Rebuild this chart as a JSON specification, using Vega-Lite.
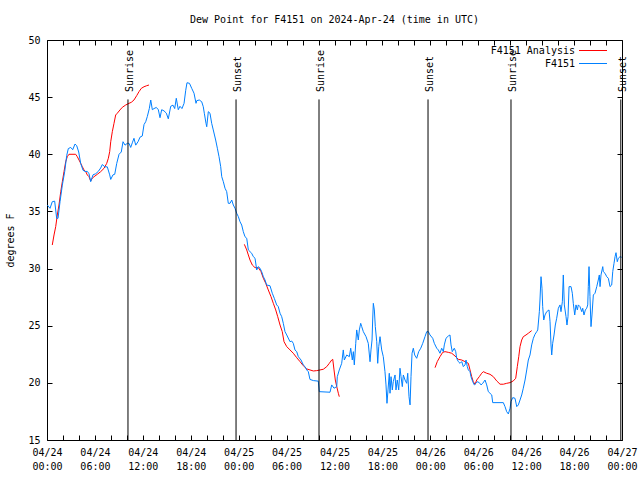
{
  "$schema": "https://vega.github.io/schema/vega-lite/v6.json",
  "width": 575,
  "height": 400,
  "autosize": {"type": "none"},
  "padding": {"left": 47, "top": 40, "right": 18, "bottom": 40},
  "background": "white",
  "title": {"text": "Dew Point for F4151 on 2024-Apr-24 (time in UTC)", "font": "DejaVu Sans Mono", "fontSize": 10, "fontWeight": "normal", "color": "#000", "anchor": "middle", "offset": 10},
  "config": {
    "view": {"stroke": "#000", "strokeWidth": 1},
    "axis": {"grid": false, "domain": false, "tickColor": "#000", "tickWidth": 1, "tickSize": -5, "labelColor": "#000", "labelFont": "DejaVu Sans Mono", "labelFontSize": 10, "titleFont": "DejaVu Sans Mono", "titleFontSize": 10, "titleFontWeight": "normal", "titleColor": "#000", "labelFlush": false, "labelOverlap": false}
  },
  "datasets": {
    "sun": [
      {"h": 10.14, "label": "Sunrise"},
      {"h": 23.67, "label": "Sunset"},
      {"h": 34.06, "label": "Sunrise"},
      {"h": 47.71, "label": "Sunset"},
      {"h": 58.10, "label": "Sunrise"},
      {"h": 71.85, "label": "Sunset"}
    ],
    "analysis": [
      {"g":1,"h":0.66,"v":32.06},{"g":1,"h":0.88,"v":32.94},{"g":1,"h":1.09,"v":33.67},{"g":1,"h":1.29,"v":34.69},{"g":1,"h":1.50,"v":35.56},{"g":1,"h":1.72,"v":36.73},{"g":1,"h":1.92,"v":37.6},{"g":1,"h":2.13,"v":38.48},{"g":1,"h":2.34,"v":39.35},{"g":1,"h":2.54,"v":39.79},{"g":1,"h":2.75,"v":40.0},{"g":1,"h":3.59,"v":40.0},{"g":1,"h":3.79,"v":39.79},{"g":1,"h":4.01,"v":39.5},{"g":1,"h":4.22,"v":39.21},{"g":1,"h":4.42,"v":38.92},{"g":1,"h":4.63,"v":38.63},{"g":1,"h":4.85,"v":38.48},{"g":1,"h":5.05,"v":38.19},{"g":1,"h":5.26,"v":38.04},{"g":1,"h":5.47,"v":37.66},{"g":1,"h":5.67,"v":37.9},{"g":1,"h":5.89,"v":38.04},{"g":1,"h":6.30,"v":38.25},{"g":1,"h":6.72,"v":38.48},{"g":1,"h":7.14,"v":38.77},{"g":1,"h":7.48,"v":39.21},{"g":1,"h":7.68,"v":39.65},{"g":1,"h":7.85,"v":40.23},{"g":1,"h":7.98,"v":41.1},{"g":1,"h":8.18,"v":41.98},{"g":1,"h":8.39,"v":42.71},{"g":1,"h":8.60,"v":43.44},{"g":1,"h":8.80,"v":43.59},{"g":1,"h":9.14,"v":43.88},{"g":1,"h":9.43,"v":44.11},{"g":1,"h":9.85,"v":44.31},{"g":1,"h":10.27,"v":44.46},{"g":1,"h":10.56,"v":44.55},{"g":1,"h":10.89,"v":44.75},{"g":1,"h":11.23,"v":45.13},{"g":1,"h":11.52,"v":45.48},{"g":1,"h":11.81,"v":45.77},{"g":1,"h":12.15,"v":45.91},{"g":1,"h":12.48,"v":46.0},{"g":1,"h":12.77,"v":46.06},
      {"g":2,"h":24.71,"v":32.12},{"g":2,"h":25.01,"v":31.63},{"g":2,"h":25.21,"v":31.19},{"g":2,"h":25.42,"v":30.75},{"g":2,"h":25.71,"v":30.31},{"g":2,"h":26.05,"v":30.08},{"g":2,"h":26.46,"v":30.08},{"g":2,"h":26.80,"v":29.73},{"g":2,"h":27.09,"v":29.15},{"g":2,"h":27.39,"v":28.71},{"g":2,"h":27.71,"v":28.13},{"g":2,"h":28.05,"v":27.54},{"g":2,"h":28.34,"v":26.96},{"g":2,"h":28.64,"v":26.38},{"g":2,"h":28.89,"v":25.79},{"g":2,"h":29.18,"v":25.06},{"g":2,"h":29.46,"v":24.48},{"g":2,"h":29.68,"v":23.6},{"g":2,"h":30.02,"v":23.17},{"g":2,"h":30.43,"v":22.88},{"g":2,"h":30.84,"v":22.59},{"g":2,"h":31.27,"v":22.2},{"g":2,"h":31.68,"v":21.86},{"g":2,"h":32.09,"v":21.5},{"g":2,"h":32.52,"v":21.22},{"g":2,"h":32.93,"v":21.13},{"g":2,"h":33.35,"v":21.04},{"g":2,"h":33.77,"v":21.07},{"g":2,"h":34.19,"v":21.13},{"g":2,"h":34.60,"v":21.19},{"g":2,"h":35.03,"v":21.42},{"g":2,"h":35.35,"v":21.71},{"g":2,"h":35.65,"v":22.0},{"g":2,"h":35.78,"v":22.06},{"g":2,"h":35.94,"v":21.13},{"g":2,"h":36.10,"v":20.25},{"g":2,"h":36.28,"v":19.67},{"g":2,"h":36.48,"v":19.09},{"g":2,"h":36.60,"v":18.79},
      {"g":3,"h":48.59,"v":21.33},{"g":3,"h":48.87,"v":21.86},{"g":3,"h":49.21,"v":22.29},{"g":3,"h":49.55,"v":22.67},{"g":3,"h":49.84,"v":22.73},{"g":3,"h":50.25,"v":22.67},{"g":3,"h":50.68,"v":22.59},{"g":3,"h":51.09,"v":22.35},{"g":3,"h":51.50,"v":22.06},{"g":3,"h":51.93,"v":22.0},{"g":3,"h":52.34,"v":21.86},{"g":3,"h":52.76,"v":21.71},{"g":3,"h":52.97,"v":21.13},{"g":3,"h":53.18,"v":20.54},{"g":3,"h":53.38,"v":20.1},{"g":3,"h":53.60,"v":19.88},{"g":3,"h":53.81,"v":20.25},{"g":3,"h":54.13,"v":20.54},{"g":3,"h":54.43,"v":20.84},{"g":3,"h":54.63,"v":20.98},{"g":3,"h":55.06,"v":20.84},{"g":3,"h":55.47,"v":20.75},{"g":3,"h":55.89,"v":20.54},{"g":3,"h":56.31,"v":20.17},{"g":3,"h":56.73,"v":19.88},{"g":3,"h":57.14,"v":19.88},{"g":3,"h":57.56,"v":19.96},{"g":3,"h":57.98,"v":20.02},{"g":3,"h":58.39,"v":20.17},{"g":3,"h":58.69,"v":20.4},{"g":3,"h":58.89,"v":21.42},{"g":3,"h":59.07,"v":22.29},{"g":3,"h":59.23,"v":23.17},{"g":3,"h":59.44,"v":23.75},{"g":3,"h":59.64,"v":24.04},{"g":3,"h":59.98,"v":24.19},{"g":3,"h":60.27,"v":24.34},{"g":3,"h":60.69,"v":24.57}
    ],
    "obs": [
      {"h":0.04,"v":35.56},{"h":0.38,"v":35.27},{"h":0.66,"v":35.85},{"h":0.96,"v":35.9},{"h":1.21,"v":34.4},{"h":1.38,"v":34.4},{"h":1.63,"v":35.85},{"h":1.92,"v":37.3},{"h":2.22,"v":38.5},{"h":2.47,"v":39.9},{"h":2.67,"v":40.5},{"h":2.97,"v":40.6},{"h":3.22,"v":40.4},{"h":3.51,"v":40.9},{"h":3.72,"v":40.75},{"h":3.97,"v":40.2},{"h":4.22,"v":39.2},{"h":4.51,"v":38.6},{"h":4.76,"v":38.5},{"h":5.05,"v":38.5},{"h":5.26,"v":38.3},{"h":5.47,"v":37.6},{"h":5.76,"v":38.2},{"h":6.10,"v":38.3},{"h":6.42,"v":38.5},{"h":6.72,"v":38.8},{"h":6.92,"v":39.1},{"h":7.26,"v":38.9},{"h":7.55,"v":38.9},{"h":7.85,"v":38.2},{"h":7.98,"v":37.8},{"h":8.26,"v":38.2},{"h":8.48,"v":38.25},{"h":8.73,"v":39.2},{"h":9.02,"v":40.0},{"h":9.30,"v":40.2},{"h":9.52,"v":41.1},{"h":9.77,"v":40.8},{"h":10.06,"v":40.96},{"h":10.27,"v":40.96},{"h":10.48,"v":40.6},{"h":10.68,"v":41.0},{"h":10.89,"v":41.4},{"h":11.11,"v":40.8},{"h":11.40,"v":41.1},{"h":11.65,"v":41.5},{"h":11.93,"v":41.6},{"h":12.15,"v":42.6},{"h":12.36,"v":42.85},{"h":12.56,"v":43.3},{"h":12.81,"v":44.0},{"h":12.99,"v":44.75},{"h":13.19,"v":43.9},{"h":13.40,"v":44.0},{"h":13.69,"v":44.1},{"h":13.94,"v":43.9},{"h":14.15,"v":43.2},{"h":14.36,"v":43.9},{"h":14.65,"v":43.8},{"h":14.94,"v":43.6},{"h":15.19,"v":43.1},{"h":15.49,"v":44.2},{"h":15.78,"v":44.3},{"h":15.99,"v":44.0},{"h":16.19,"v":44.9},{"h":16.44,"v":43.9},{"h":16.65,"v":44.2},{"h":16.90,"v":44.0},{"h":17.16,"v":44.45},{"h":17.37,"v":45.6},{"h":17.53,"v":46.26},{"h":17.84,"v":46.21},{"h":18.12,"v":45.77},{"h":18.41,"v":45.34},{"h":18.66,"v":44.46},{"h":18.75,"v":44.69},{"h":19.07,"v":44.75},{"h":19.37,"v":44.6},{"h":19.57,"v":44.16},{"h":19.70,"v":43.59},{"h":19.91,"v":42.71},{"h":20.00,"v":42.41},{"h":20.20,"v":43.73},{"h":20.41,"v":43.59},{"h":20.62,"v":42.71},{"h":20.82,"v":42.13},{"h":21.12,"v":41.25},{"h":21.33,"v":40.53},{"h":21.54,"v":39.79},{"h":21.75,"v":38.92},{"h":21.88,"v":38.04},{"h":22.08,"v":37.6},{"h":22.29,"v":37.03},{"h":22.50,"v":36.73},{"h":22.70,"v":35.71},{"h":22.92,"v":35.71},{"h":23.13,"v":36.0},{"h":23.33,"v":35.56},{"h":23.54,"v":35.28},{"h":23.75,"v":34.84},{"h":23.96,"v":34.54},{"h":24.17,"v":34.1},{"h":24.38,"v":33.81},{"h":24.58,"v":33.23},{"h":24.79,"v":32.79},{"h":25.01,"v":32.65},{"h":25.21,"v":31.63},{"h":25.63,"v":31.34},{"h":25.83,"v":31.05},{"h":26.05,"v":30.9},{"h":26.26,"v":29.88},{"h":26.46,"v":30.17},{"h":26.67,"v":30.03},{"h":26.88,"v":29.73},{"h":27.09,"v":29.29},{"h":27.30,"v":29.0},{"h":27.51,"v":28.56},{"h":27.92,"v":28.5},{"h":28.21,"v":27.84},{"h":28.46,"v":27.4},{"h":28.76,"v":26.82},{"h":28.96,"v":26.67},{"h":29.18,"v":26.09},{"h":29.39,"v":25.79},{"h":29.59,"v":25.21},{"h":29.80,"v":24.48},{"h":30.02,"v":24.19},{"h":30.43,"v":23.6},{"h":30.64,"v":23.66},{"h":30.84,"v":23.46},{"h":31.05,"v":22.88},{"h":31.27,"v":22.73},{"h":31.47,"v":22.29},{"h":31.81,"v":22.0},{"h":32.09,"v":21.57},{"h":32.31,"v":21.42},{"h":32.52,"v":21.13},{"h":32.72,"v":20.98},{"h":32.93,"v":20.3},{"h":33.35,"v":20.2},{"h":33.97,"v":20.15},{"h":34.10,"v":19.23},{"h":35.44,"v":19.18},{"h":35.65,"v":19.82},{"h":35.94,"v":19.53},{"h":36.28,"v":19.67},{"h":36.35,"v":20.54},{"h":36.60,"v":21.13},{"h":36.90,"v":21.71},{"h":37.10,"v":22.88},{"h":37.23,"v":22.0},{"h":37.53,"v":22.44},{"h":37.86,"v":22.29},{"h":38.03,"v":23.03},{"h":38.23,"v":22.0},{"h":38.36,"v":22.73},{"h":38.48,"v":21.57},{"h":38.66,"v":23.46},{"h":38.78,"v":24.63},{"h":38.98,"v":23.75},{"h":39.11,"v":24.63},{"h":39.28,"v":25.21},{"h":39.41,"v":24.92},{"h":39.61,"v":24.48},{"h":39.95,"v":24.04},{"h":40.23,"v":23.46},{"h":40.45,"v":21.85},{"h":40.57,"v":22.88},{"h":40.70,"v":23.75},{"h":40.78,"v":25.5},{"h":40.86,"v":26.96},{"h":40.99,"v":26.38},{"h":41.11,"v":24.92},{"h":41.29,"v":23.6},{"h":41.41,"v":21.71},{"h":41.54,"v":23.17},{"h":41.70,"v":24.04},{"h":41.91,"v":22.88},{"h":42.11,"v":22.29},{"h":42.32,"v":20.98},{"h":42.45,"v":19.82},{"h":42.57,"v":18.21},{"h":42.70,"v":19.38},{"h":42.86,"v":20.84},{"h":42.95,"v":19.09},{"h":43.08,"v":20.54},{"h":43.24,"v":19.38},{"h":43.36,"v":20.1},{"h":43.58,"v":20.69},{"h":43.70,"v":19.38},{"h":43.86,"v":20.25},{"h":44.04,"v":19.38},{"h":44.20,"v":21.28},{"h":44.33,"v":20.54},{"h":44.49,"v":19.67},{"h":44.62,"v":20.69},{"h":44.83,"v":20.25},{"h":45.04,"v":19.96},{"h":45.17,"v":20.84},{"h":45.33,"v":18.79},{"h":45.46,"v":18.07},{"h":45.58,"v":20.54},{"h":45.71,"v":22.59},{"h":45.87,"v":23.03},{"h":46.04,"v":22.44},{"h":46.29,"v":22.15},{"h":46.54,"v":22.73},{"h":46.80,"v":23.03},{"h":47.05,"v":23.46},{"h":47.33,"v":24.04},{"h":47.55,"v":24.48},{"h":47.75,"v":24.48},{"h":47.96,"v":24.19},{"h":48.30,"v":23.9},{"h":48.50,"v":23.46},{"h":48.80,"v":23.03},{"h":49.00,"v":22.88},{"h":49.21,"v":22.59},{"h":49.42,"v":23.03},{"h":49.63,"v":22.73},{"h":49.75,"v":23.32},{"h":49.96,"v":23.9},{"h":50.25,"v":24.1},{"h":50.46,"v":24.19},{"h":50.59,"v":23.32},{"h":50.75,"v":22.73},{"h":51.00,"v":23.03},{"h":51.18,"v":22.73},{"h":51.30,"v":22.15},{"h":51.50,"v":21.86},{"h":51.72,"v":21.71},{"h":51.93,"v":21.86},{"h":52.13,"v":21.42},{"h":52.34,"v":21.57},{"h":52.47,"v":22.0},{"h":52.63,"v":21.42},{"h":52.76,"v":21.13},{"h":52.97,"v":20.98},{"h":53.09,"v":20.54},{"h":53.31,"v":20.1},{"h":53.51,"v":19.82},{"h":53.72,"v":19.96},{"h":53.88,"v":20.1},{"h":54.13,"v":20.02},{"h":54.35,"v":19.82},{"h":54.56,"v":19.96},{"h":54.85,"v":20.25},{"h":55.06,"v":19.82},{"h":55.26,"v":19.23},{"h":55.47,"v":19.09},{"h":55.69,"v":18.94},{"h":55.81,"v":18.27},{"h":57.14,"v":18.27},{"h":57.35,"v":17.92},{"h":57.56,"v":17.48},{"h":57.77,"v":17.28},{"h":57.98,"v":17.78},{"h":58.10,"v":18.36},{"h":58.32,"v":18.71},{"h":58.60,"v":18.65},{"h":58.82,"v":17.92},{"h":59.02,"v":18.07},{"h":59.23,"v":18.5},{"h":59.44,"v":18.94},{"h":59.64,"v":19.53},{"h":59.86,"v":20.25},{"h":60.07,"v":21.13},{"h":60.27,"v":22.0},{"h":60.48,"v":22.44},{"h":60.69,"v":23.32},{"h":60.90,"v":23.9},{"h":61.11,"v":24.25},{"h":61.32,"v":24.48},{"h":61.45,"v":24.63},{"h":61.65,"v":26.23},{"h":61.73,"v":27.25},{"h":61.86,"v":29.29},{"h":61.98,"v":28.28},{"h":62.07,"v":26.67},{"h":62.20,"v":25.5},{"h":62.36,"v":25.94},{"h":62.57,"v":26.23},{"h":62.86,"v":26.38},{"h":62.99,"v":25.35},{"h":63.11,"v":23.32},{"h":63.20,"v":22.44},{"h":63.32,"v":23.46},{"h":63.49,"v":24.19},{"h":63.65,"v":25.06},{"h":63.82,"v":25.65},{"h":64.03,"v":26.53},{"h":64.24,"v":26.82},{"h":64.36,"v":26.23},{"h":64.53,"v":27.1},{"h":64.65,"v":29.44},{"h":64.78,"v":26.82},{"h":64.99,"v":25.79},{"h":65.11,"v":25.06},{"h":65.24,"v":25.79},{"h":65.37,"v":28.42},{"h":65.62,"v":28.42},{"h":65.78,"v":27.84},{"h":65.90,"v":26.96},{"h":66.08,"v":25.94},{"h":66.24,"v":26.82},{"h":66.41,"v":26.38},{"h":66.53,"v":26.82},{"h":66.74,"v":26.67},{"h":66.96,"v":26.23},{"h":67.08,"v":26.53},{"h":67.24,"v":25.94},{"h":67.41,"v":26.38},{"h":67.58,"v":26.53},{"h":67.71,"v":26.82},{"h":67.78,"v":28.42},{"h":67.87,"v":30.17},{"h":67.99,"v":27.54},{"h":68.12,"v":24.92},{"h":68.24,"v":25.94},{"h":68.41,"v":27.69},{"h":68.62,"v":27.84},{"h":68.84,"v":28.42},{"h":69.03,"v":29.0},{"h":69.16,"v":29.44},{"h":69.25,"v":28.42},{"h":69.37,"v":29.44},{"h":69.59,"v":30.17},{"h":69.66,"v":29.73},{"h":69.87,"v":29.59},{"h":70.09,"v":29.29},{"h":70.29,"v":29.15},{"h":70.50,"v":28.42},{"h":70.71,"v":28.56},{"h":70.84,"v":29.73},{"h":71.00,"v":30.46},{"h":71.13,"v":31.04},{"h":71.25,"v":31.39},{"h":71.41,"v":30.6},{"h":71.54,"v":30.9},{"h":71.75,"v":31.04},{"h":71.96,"v":30.99}
    ]
  },
  "layer": [
    {
      "data": {"name": "analysis"},
      "mark": {"type": "line", "strokeWidth": 1, "clip": true},
      "encoding": {
        "x": {"field": "h", "type": "quantitative", "scale": {"domain": [0, 72], "nice": false, "zero": false},
              "axis": {"orient": "bottom", "title": null, "values": [0,2,4,6,8,10,12,14,16,18,20,22,24,26,28,30,32,34,36,38,40,42,44,46,48,50,52,54,56,58,60,62,64,66,68,70,72],
                       "labelExpr": "datum.value % 6 == 0 ? ['04/' + (24 + floor(datum.value / 24)), (datum.value % 24 < 10 ? '0' : '') + (datum.value % 24) + ':00'] : ''",
                       "labelPadding": 12, "labelBaseline": "top", "labelLineHeight": 14}},
        "y": {"field": "v", "type": "quantitative", "scale": {"domain": [15, 50], "nice": false, "zero": false},
              "axis": {"orient": "left", "title": "degrees F", "values": [15,20,25,30,35,40,45,50], "labelPadding": 12, "titlePadding": 12}},
        "color": {"datum": "F4151 Analysis", "type": "nominal",
                  "scale": {"domain": ["F4151 Analysis", "F4151"], "range": ["#ff0000", "#0080ff"]},
                  "legend": {"title": null, "orient": "none", "legendX": 541, "legendY": 5.5, "symbolType": "M-14,0H14", "symbolSize": 4, "symbolStrokeWidth": 1, "labelAlign": "right", "labelOffset": -23, "labelFont": "DejaVu Sans Mono", "labelFontSize": 10, "labelColor": "#000", "rowPadding": 3, "padding": 0}},
        "detail": {"field": "g", "type": "nominal"}
      }
    },
    {
      "data": {"name": "obs"},
      "mark": {"type": "line", "strokeWidth": 1, "clip": true},
      "encoding": {
        "x": {"field": "h", "type": "quantitative", "axis": null},
        "y": {"field": "v", "type": "quantitative", "axis": null},
        "color": {"datum": "F4151", "type": "nominal",
                  "legend": {"title": null, "orient": "none", "legendX": 541, "legendY": 5.5, "symbolType": "M-14,0H14", "symbolSize": 4, "symbolStrokeWidth": 1, "labelAlign": "right", "labelOffset": -23, "labelFont": "DejaVu Sans Mono", "labelFontSize": 10, "labelColor": "#000", "rowPadding": 3, "padding": 0}}
      }
    },
    {
      "data": {"name": "sun"},
      "mark": {"type": "rule", "color": "#000", "strokeWidth": 1},
      "encoding": {
        "x": {"field": "h", "type": "quantitative",
              "axis": {"orient": "top", "title": null, "labels": false, "values": [0,2,4,6,8,10,12,14,16,18,20,22,24,26,28,30,32,34,36,38,40,42,44,46,48,50,52,54,56,58,60,62,64,66,68,70,72]}},
        "y": {"datum": 15, "type": "quantitative",
              "axis": {"orient": "right", "title": null, "labels": false, "values": [15,20,25,30,35,40,45,50]}},
        "y2": {"datum": 44.8}
      }
    },
    {
      "data": {"name": "sun"},
      "mark": {"type": "text", "angle": 270, "align": "left", "baseline": "middle", "dy": 2, "font": "DejaVu Sans Mono", "fontSize": 10, "color": "#000"},
      "encoding": {
        "x": {"field": "h", "type": "quantitative", "axis": null},
        "y": {"datum": 45.45, "type": "quantitative", "axis": null},
        "text": {"field": "label"}
      }
    }
  ],
  "resolve": {"axis": {"x": "independent", "y": "independent"}}
}
